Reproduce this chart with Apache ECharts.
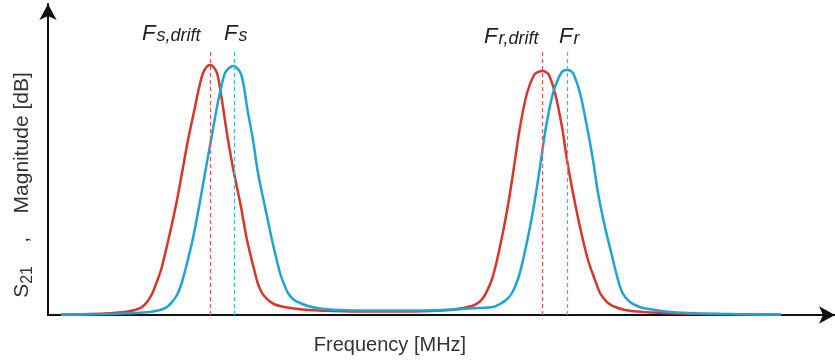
<!DOCTYPE html>
<html>
<head>
<meta charset="utf-8">
<script src="https://cdn.jsdelivr.net/npm/echarts@6/dist/echarts.min.js"></script>
<style>
  html, body { margin: 0; padding: 0; background: #fff; }
  #chart { width: 835px; height: 361px; }
</style>
</head>
<body>
<div id="chart"></div>
<script>
// frequency (arbitrary units) and magnitude (arbitrary units)
const driftFreq = [61,90,110,125,135,142,147,152,156,161,165,169,176,182,188,195,199,203,206.5,210,213.5,217,220,223,228,234,241,247,255,258,262,266,270,275,282,290,305,323,360,400,430,450,463,472,478,483,487,492,497,504,510,515,520,527,534,538,542,546,549,555,562,567,573,580,588,595,600,604,608,614,625,643,680,720,781];
const driftMag  = [0.5,1,1.8,3,5,8,13,21,31,45,61,78,110,142,175,208,227,242,248,250,248,242,227,208,175,142,108,75,42,31,22,17,13.5,10.5,8.5,7,5.2,4.2,3.5,3.5,4,5,7,9,12,17,24,36,55,88,122,155,188,222,240,243,244,243,240,222,188,155,122,88,55,35,22,16.5,12,8.5,5,3,1.5,1,0.5];
const refFreq = [61,100,123,140,150,160,167,172,177,181,185,189,193,199,205,211,217,221,225,229,233,237,241,244,247,253,258,265,272,280,284,288,293,300,308,317,330,360,420,463,480,493,500,506,512,518,523,530,536,541,546,553,560,563,567,571,574,580,587,593,598,605,613,618,622,626,630,636,643,655,670,700,740,781];
const refMag  = [0.3,0.8,1.5,2.3,3,5,8,13,20,30,44,60,77,108,142,175,208,227,242,247,249,247,241,228,208,175,142,108,75,42,31,22,16,12,9,7,5.5,4.5,4.5,6,7,8,11,15,22,36,55,88,122,155,188,222,240,244,245,244,240,222,188,155,122,88,55,35,23,17,13,9.5,7,5,3,1.5,0.8,0.4];
// peak markers
const markerFreq = [210, 234, 542, 567];
const markerTop = 265;

const RED = '#d9362b', BLUE = '#1ea5d1';
const FONT = 'Liberation Sans';

const zip = (a, b) => a.map((v, i) => [v, b[i]]);
const vline = (x) => [{ coord: [x, 0] }, { coord: [x, markerTop] }];
const peakLabel = (left, top, main, sub) => ({
  type: 'text', left: left, top: top,
  style: {
    text: '{F|' + main + '}{s|' + sub + '}',
    rich: {
      F: { fontFamily: FONT, fontStyle: 'italic', fontSize: 22, fill: '#222', verticalAlign: 'bottom' },
      s: { fontFamily: FONT, fontStyle: 'italic', fontSize: 18, fill: '#222', verticalAlign: 'bottom', padding: [0, 0, 0, 1] }
    }
  }
});

const chart = echarts.init(document.getElementById('chart'));
chart.setOption({
  animation: false,
  grid: { left: 48, right: 0, top: 4, bottom: 46 },
  xAxis: {
    type: 'value', min: 48, max: 835,
    axisLine: { symbol: ['none', 'arrow'], symbolSize: [13, 16], lineStyle: { color: '#111', width: 2 } },
    axisTick: { show: false }, axisLabel: { show: false }, splitLine: { show: false }
  },
  yAxis: {
    type: 'value', min: 0, max: 311,
    axisLine: { show: true, symbol: ['none', 'arrow'], symbolSize: [13, 16], lineStyle: { color: '#111', width: 2 } },
    axisTick: { show: false }, axisLabel: { show: false }, splitLine: { show: false }
  },
  series: [
    {
      name: 'drift', type: 'line', data: zip(driftFreq, driftMag), smooth: 0.35, showSymbol: false,
      lineStyle: { color: RED, width: 2.5 }, z: 3,
      markLine: {
        silent: true, symbol: 'none', label: { show: false },
        lineStyle: { color: '#e2574e', type: [4, 3], width: 1.2 },
        data: [vline(markerFreq[0]), vline(markerFreq[2])]
      }
    },
    {
      name: 'ref', type: 'line', data: zip(refFreq, refMag), smooth: 0.35, showSymbol: false,
      lineStyle: { color: BLUE, width: 2.5 }, z: 4,
      markLine: {
        silent: true, symbol: 'none', label: { show: false },
        lineStyle: { color: '#43b5dc', type: [4, 3], width: 1.2 },
        data: [vline(markerFreq[1]), vline(markerFreq[3])]
      }
    }
  ],
  graphic: [
    peakLabel(142, 23, 'F', 's,drift'),
    peakLabel(224, 23, 'F', 's'),
    peakLabel(484, 26, 'F', 'r,drift'),
    peakLabel(559, 26, 'F', 'r'),
    {
      type: 'text', x: 390, y: 345,
      style: { text: 'Frequency [MHz]', fontFamily: FONT, fontSize: 20, fill: '#333', align: 'center', verticalAlign: 'middle' }
    },
    {
      type: 'text', x: 22, y: 185, rotation: Math.PI / 2,
      style: {
        text: '{a|S}{b|21}{a|    ,    Magnitude [dB]}', align: 'center', verticalAlign: 'middle',
        rich: {
          a: { fontFamily: FONT, fontSize: 21, fill: '#333', verticalAlign: 'bottom' },
          b: { fontFamily: FONT, fontSize: 16, fill: '#333', verticalAlign: 'bottom', padding: [0, 0, -3, 0] }
        }
      }
    }
  ]
});
</script>
</body>
</html>
